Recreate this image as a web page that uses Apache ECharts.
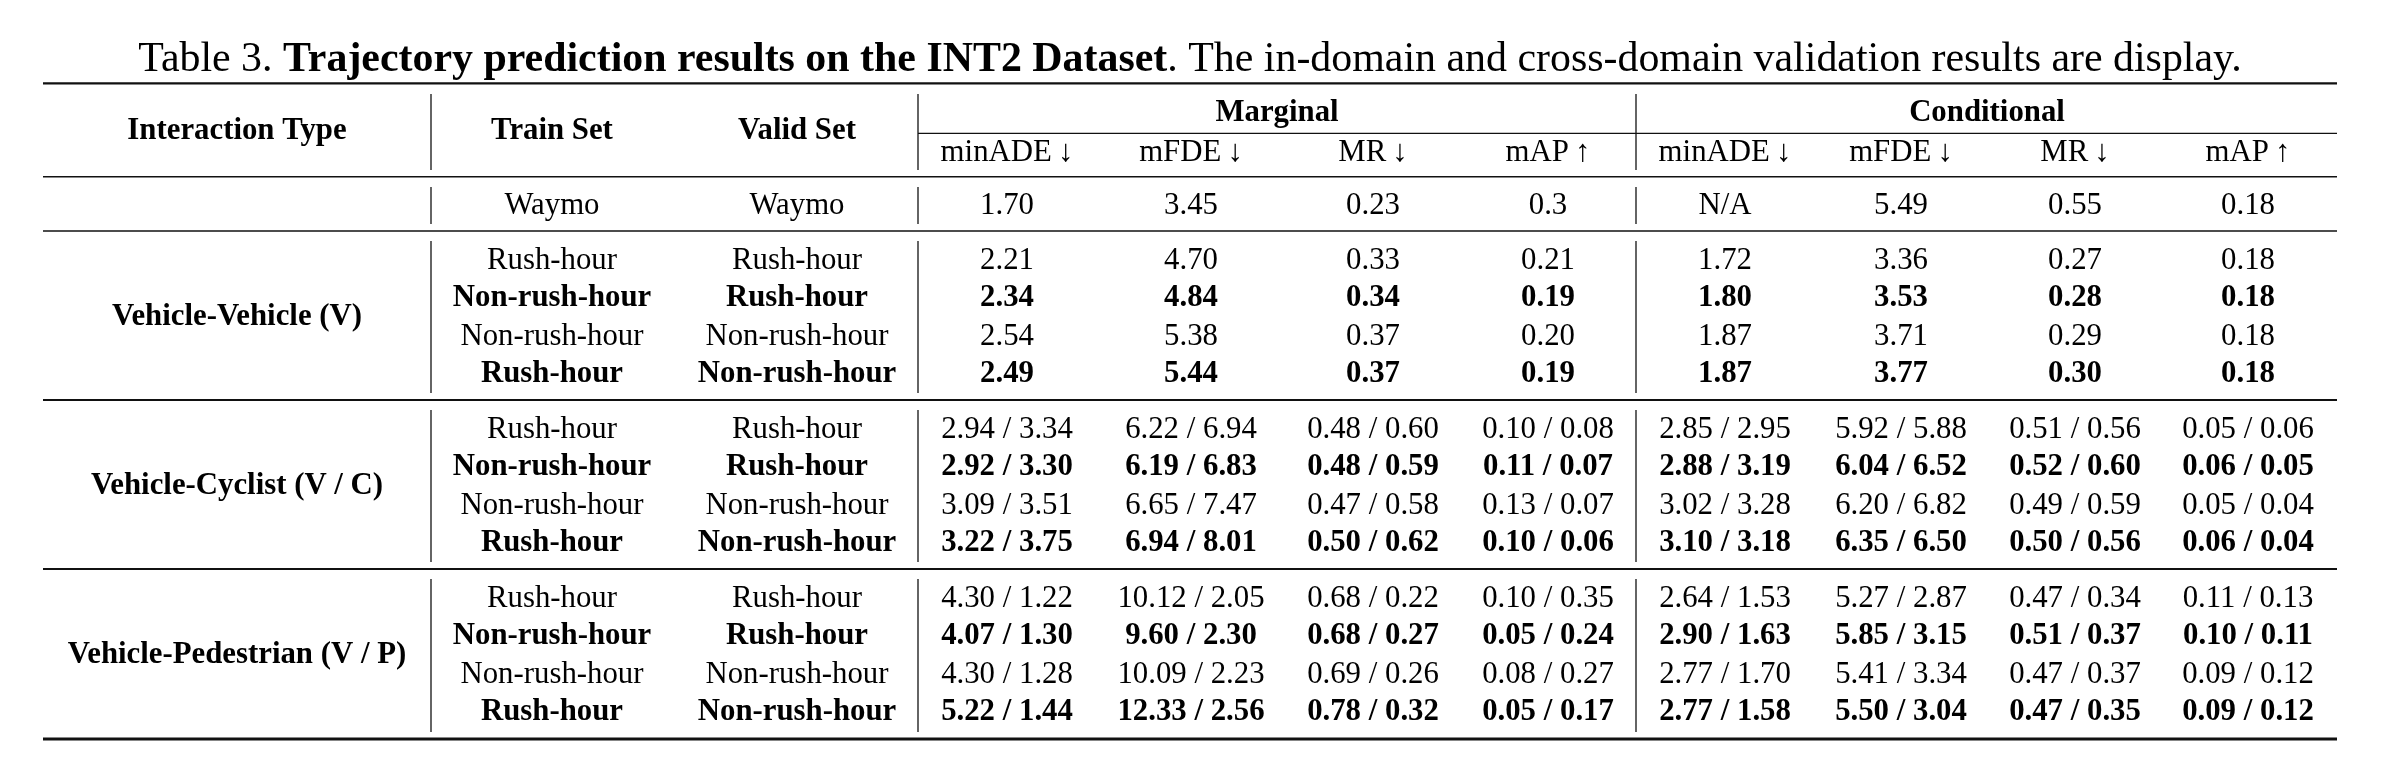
<!DOCTYPE html>
<html>
<head>
<meta charset="utf-8">
<style>
html,body{margin:0;padding:0;background:#fff;}
#chart{width:2385px;height:781px;}
</style>
<script src="https://cdn.jsdelivr.net/npm/echarts@6.0.0/dist/echarts.min.js"></script>
</head>
<body>
<div id="chart"></div>
<script>
// ---------- DATA ----------
const captionPrefix = 'Table 3. ';
const captionBold = 'Trajectory prediction results on the INT2 Dataset';
const captionRest = '. The in-domain and cross-domain validation results are display.';

const headerLeft = ['Interaction Type', 'Train Set', 'Valid Set'];
const headerGroups = ['Marginal', 'Conditional'];
const metricNames = ['minADE', 'mFDE', 'MR', 'mAP', 'minADE', 'mFDE', 'MR', 'mAP'];
const metricArrows = ['↓', '↓', '↓', '↑', '↓', '↓', '↓', '↑'];

const interactionTypes = ['Vehicle-Vehicle (V)', 'Vehicle-Cyclist (V / C)', 'Vehicle-Pedestrian (V / P)'];
const trainSets = ['Rush-hour', 'Non-rush-hour', 'Non-rush-hour', 'Rush-hour'];
const validSets = ['Rush-hour', 'Rush-hour', 'Non-rush-hour', 'Non-rush-hour'];

const waymoTrain = 'Waymo';
const waymoValid = 'Waymo';
const waymoValues = ['1.70', '3.45', '0.23', '0.3', 'N/A', '5.49', '0.55', '0.18'];

const vehicleVehicle = [
  ['2.21', '4.70', '0.33', '0.21', '1.72', '3.36', '0.27', '0.18'],
  ['2.34', '4.84', '0.34', '0.19', '1.80', '3.53', '0.28', '0.18'],
  ['2.54', '5.38', '0.37', '0.20', '1.87', '3.71', '0.29', '0.18'],
  ['2.49', '5.44', '0.37', '0.19', '1.87', '3.77', '0.30', '0.18']
];
const vehicleCyclist = [
  ['2.94 / 3.34', '6.22 / 6.94', '0.48 / 0.60', '0.10 / 0.08', '2.85 / 2.95', '5.92 / 5.88', '0.51 / 0.56', '0.05 / 0.06'],
  ['2.92 / 3.30', '6.19 / 6.83', '0.48 / 0.59', '0.11 / 0.07', '2.88 / 3.19', '6.04 / 6.52', '0.52 / 0.60', '0.06 / 0.05'],
  ['3.09 / 3.51', '6.65 / 7.47', '0.47 / 0.58', '0.13 / 0.07', '3.02 / 3.28', '6.20 / 6.82', '0.49 / 0.59', '0.05 / 0.04'],
  ['3.22 / 3.75', '6.94 / 8.01', '0.50 / 0.62', '0.10 / 0.06', '3.10 / 3.18', '6.35 / 6.50', '0.50 / 0.56', '0.06 / 0.04']
];
const vehiclePedestrian = [
  ['4.30 / 1.22', '10.12 / 2.05', '0.68 / 0.22', '0.10 / 0.35', '2.64 / 1.53', '5.27 / 2.87', '0.47 / 0.34', '0.11 / 0.13'],
  ['4.07 / 1.30', '9.60 / 2.30', '0.68 / 0.27', '0.05 / 0.24', '2.90 / 1.63', '5.85 / 3.15', '0.51 / 0.37', '0.10 / 0.11'],
  ['4.30 / 1.28', '10.09 / 2.23', '0.69 / 0.26', '0.08 / 0.27', '2.77 / 1.70', '5.41 / 3.34', '0.47 / 0.37', '0.09 / 0.12'],
  ['5.22 / 1.44', '12.33 / 2.56', '0.78 / 0.32', '0.05 / 0.17', '2.77 / 1.58', '5.50 / 3.04', '0.47 / 0.35', '0.09 / 0.12']
];
const groups = [vehicleVehicle, vehicleCyclist, vehiclePedestrian];

// ---------- LAYOUT / STYLE ----------
const FONT = '"Liberation Serif", "Times New Roman", "DejaVu Serif", serif';
const FS = 30.8;
const TITLE_FS = 41.9;
const TEXT_DY = 2.5;
const colX = [237, 552, 797, 1007, 1191, 1373, 1548, 1725, 1901, 2075, 2248];
const groupX = [1277, 1987];
const titleX = 1190, titleY = 60;
const groupHeaderY = 111, metricHeaderY = 150, leftHeaderY = 129, waymoY = 203;
const groupTops = [231, 400, 569];
const firstRowOffset = 27, rowPitch = 38;
const boldRow = [false, true, false, true];
const tableLeft = 43, tableRight = 2337;
const vLinesX = [431, 918, 1636];

// ---------- BUILD CELLS ----------
const cells = [];
function addCell(x, y, text, bold, size) {
  cells.push({ x: x, y: y + TEXT_DY, text: text, bold: !!bold, size: size || FS });
}
headerLeft.forEach((t, i) => addCell(colX[i], leftHeaderY, t, true));
headerGroups.forEach((t, i) => addCell(groupX[i], groupHeaderY, t, true));
metricNames.forEach((t, i) => addCell(colX[3 + i], metricHeaderY, t + '\u2009' + metricArrows[i], false));
addCell(colX[1], waymoY, waymoTrain, false);
addCell(colX[2], waymoY, waymoValid, false);
waymoValues.forEach((t, i) => addCell(colX[3 + i], waymoY, t, false));
groups.forEach((g, gi) => {
  const top = groupTops[gi];
  addCell(colX[0], top + firstRowOffset + rowPitch * 1.5, interactionTypes[gi], true);
  g.forEach((row, ri) => {
    const y = top + firstRowOffset + rowPitch * ri;
    const b = boldRow[ri];
    addCell(colX[1], y, trainSets[ri], b);
    addCell(colX[2], y, validSets[ri], b);
    row.forEach((t, ci) => addCell(colX[3 + ci], y, t, b));
  });
});

// rules: [x1, y1, x2, y2, width]
const rules = [
  [tableLeft, 83.3, tableRight, 83.3, 2.2],
  [vLinesX[1], 133.3, tableRight, 133.3, 1.3],
  [tableLeft, 176.7, tableRight, 176.7, 1.4],
  [tableLeft, 231, tableRight, 231, 1.4],
  [tableLeft, 400, tableRight, 400, 2.2],
  [tableLeft, 569, tableRight, 569, 2.2],
  [tableLeft, 739, tableRight, 739, 2.8]
];
const vSpans = [[94, 170], [187, 224], [241, 393], [410, 562], [579, 732]];
vSpans.forEach(s => vLinesX.forEach(x => rules.push([x, s[0], x, s[1], 1.3])));

const chart = echarts.init(document.getElementById('chart'), null, { renderer: 'canvas' });
chart.setOption({
  animation: false,
  backgroundColor: '#fff',
  grid: { left: 0, right: 0, top: 0, bottom: 0 },
  xAxis: { type: 'value', min: 0, max: 2385, show: false },
  yAxis: { type: 'value', min: 0, max: 781, inverse: true, show: false },
  series: [
    {
      type: 'custom',
      coordinateSystem: 'cartesian2d',
      clip: false,
      silent: true,
      data: rules.map(r => r),
      renderItem: function (params, api) {
        const p1 = api.coord([api.value(0), api.value(1)]);
        const p2 = api.coord([api.value(2), api.value(3)]);
        return {
          type: 'line',
          shape: { x1: p1[0], y1: p1[1], x2: p2[0], y2: p2[1] },
          style: { stroke: '#111', lineWidth: api.value(4) }
        };
      }
    },
    {
      type: 'custom',
      coordinateSystem: 'cartesian2d',
      clip: false,
      silent: true,
      data: cells.map((c, i) => [c.x, c.y, i]),
      renderItem: function (params, api) {
        const c = cells[api.value(2)];
        const p = api.coord([api.value(0), api.value(1)]);
        return {
          type: 'text',
          x: p[0], y: p[1],
          style: {
            text: c.text, fill: '#000',
            fontFamily: FONT, fontSize: c.size,
            fontWeight: c.bold ? 'bold' : 'normal',
            align: 'center', verticalAlign: 'middle'
          }
        };
      }
    },
    {
      type: 'custom',
      coordinateSystem: 'cartesian2d',
      clip: false,
      silent: true,
      data: [[titleX, titleY]],
      renderItem: function (params, api) {
        const p = api.coord([api.value(0), api.value(1)]);
        return {
          type: 'text',
          x: p[0], y: p[1],
          style: {
            text: '{n|' + captionPrefix + '}{b|' + captionBold + '}{n|' + captionRest + '}',
            align: 'center', verticalAlign: 'middle',
            rich: {
              n: { fontFamily: FONT, fontSize: TITLE_FS, fill: '#000', fontWeight: 'normal' },
              b: { fontFamily: FONT, fontSize: TITLE_FS, fill: '#000', fontWeight: 'bold' }
            }
          }
        };
      }
    }
  ]
});
</script>
</body>
</html>
